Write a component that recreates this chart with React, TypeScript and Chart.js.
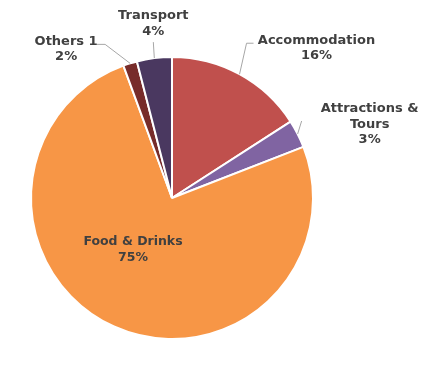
import React, { useEffect, useRef } from "react";
import { Chart, registerables } from "chart.js";

Chart.register(...registerables);

const categories = ["Accommodation", "Attractions & Tours", "Food & Drinks", "Others 1", "Transport"];
const values = [15.9, 3.2, 75.3, 1.6, 4.0];
const percentLabels = ["16%", "3%", "75%", "2%", "4%"];
const labelLines = [["Accommodation"], ["Attractions &", "Tours"], ["Food & Drinks"], ["Others 1"], ["Transport"]];
const colors = ["#C0504D", "#8064A2", "#F79646", "#772C2A", "#4A3860"];

// label placement config (relative to slice edge midpoint, or center for inside labels)
const labelPlacement = [
  { inside: false, leader: [[7, -31], [14, -31]], text: [77, -34], size: 13 },
  { inside: false, leader: [[4, -13]], text: [72, -25], size: 13 },
  { inside: true, text: [-39, 44], size: 12.5 },
  { inside: false, leader: [[-25, -19], [-34, -19]], text: [-64, -22], size: 13 },
  { inside: false, leader: [[-1, -16]], text: [-1, -42], size: 13 },
];

const labelPlugin = {
  id: "pieLabels",
  afterDatasetsDraw(chart: any) {
    const ctx = chart.ctx;
    const meta = chart.getDatasetMeta(0);
    meta.data.forEach((arc: any, i: number) => {
      const p = labelPlacement[i];
      const mid = (arc.startAngle + arc.endAngle) / 2;
      const ex = arc.x + Math.cos(mid) * arc.outerRadius;
      const ey = arc.y + Math.sin(mid) * arc.outerRadius;
      ctx.save();
      let ax: number, ay: number;
      if (p.inside) {
        ax = arc.x + p.text[0];
        ay = arc.y + p.text[1];
      } else {
        ctx.strokeStyle = "#A6A6A6";
        ctx.lineWidth = 1;
        ctx.beginPath();
        ctx.moveTo(ex, ey);
        (p.leader || []).forEach((pt: number[]) => ctx.lineTo(ex + pt[0], ey + pt[1]));
        ctx.stroke();
        ax = ex + p.text[0];
        ay = ey + p.text[1];
      }
      const lines = [...labelLines[i], percentLabels[i]];
      ctx.fillStyle = "#404040";
      ctx.font = `bold ${p.size}px 'DejaVu Sans'`;
      ctx.textAlign = "center";
      ctx.textBaseline = "middle";
      lines.forEach((t, k) => ctx.fillText(t, ax, ay + k * 15.5));
      ctx.restore();
    });
  },
};

export default function App() {
  const ref = useRef<HTMLCanvasElement>(null);
  useEffect(() => {
    const chart = new Chart(ref.current!, {
      type: "pie",
      data: {
        labels: categories,
        datasets: [
          {
            data: values,
            backgroundColor: colors,
            borderColor: "#FFFFFF",
            borderWidth: 2,
          },
        ],
      },
      options: {
        responsive: false,
        animation: false,
        layout: { padding: { left: 30, right: 127, top: 56, bottom: 25 } },
        plugins: { legend: { display: false }, tooltip: { enabled: false } },
      },
      plugins: [labelPlugin],
    });
    return () => chart.destroy();
  }, []);
  return (
    <div style={{ position: "fixed", left: 0, top: 0, width: 441, height: 365, background: "#fff" }}>
      <canvas ref={ref} width={441} height={365} />
    </div>
  );
}
